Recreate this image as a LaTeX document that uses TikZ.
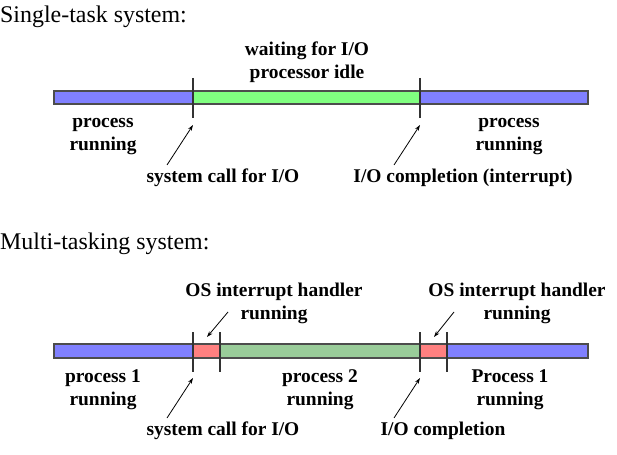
\documentclass[tikz,border=0pt]{standalone}
\usepackage{fontspec}
\setmainfont{Liberation Serif}
\usetikzlibrary{arrows.meta}
\definecolor{runblue}{HTML}{8080FF}
\definecolor{idlegreen}{HTML}{80FF80}
\definecolor{otherrun}{HTML}{99CC99}
\definecolor{handlerred}{HTML}{FF8080}
\begin{document}
\begin{tikzpicture}[x=1bp, y=-1bp, line join=miter,
    seg/.style={draw=black!70, line width=1.2bp},
    tick/.style={draw=black!80, line width=1.2bp},
    lbl/.style={font=\bfseries\fontsize{19.5}{23}\selectfont, align=center, inner sep=0pt},
    ttl/.style={font=\fontsize{24}{26}\selectfont, anchor=west, inner sep=0pt},
    pointer/.style={-{Stealth[length=6bp, width=4bp]}, line width=0.8bp}]
    \useasboundingbox (0,0) rectangle (617,455);

    % single-task
    \node[ttl] (single) at (0,17) {Single-task system:};
    \filldraw[seg, fill=runblue] (54,91) rectangle (193,104);
    \filldraw[seg, fill=idlegreen] (193,91) rectangle (420,104);
    \filldraw[seg, fill=runblue] (420,91) rectangle (588,104);
    \draw[tick] (193,78) -- (193,118);
    \draw[tick] (420,78) -- (420,118);

    \node[lbl] (wait) at (307,62) {waiting for I/O\\processor idle};
    \node[lbl] (runA) at (103,137) {process\\running};
    \node[lbl] (runB) at (509,137) {process\\running};
    \node[lbl] (callA) at (223,178) {system call for I/O};
    \node[lbl] (doneA) at (463,178) {I/O completion (interrupt)};

    \coordinate (callAtail) at (167,165);
    \coordinate (callAhead) at (193,125);
    \coordinate (doneAtail) at (394,165);
    \coordinate (doneAhead) at (420,125);
    \draw[pointer] (callAtail) -- (callAhead);
    \draw[pointer] (doneAtail) -- (doneAhead);

    % multi-tasking
    \node[ttl] (multi) at (0,244) {Multi-tasking system:};
    \filldraw[seg, fill=runblue] (54,344) rectangle (193,358);
    \filldraw[seg, fill=handlerred] (193,344) rectangle (220,358);
    \filldraw[seg, fill=otherrun] (220,344) rectangle (420,358);
    \filldraw[seg, fill=handlerred] (420,344) rectangle (447,358);
    \filldraw[seg, fill=runblue] (447,344) rectangle (588,358);
    \draw[tick] (193,332) -- (193,372);
    \draw[tick] (220,332) -- (220,372);
    \draw[tick] (420,332) -- (420,372);
    \draw[tick] (447,332) -- (447,372);

    \node[lbl] (osA) at (274,303) {OS interrupt handler\\running};
    \node[lbl] (osB) at (517,303) {OS interrupt handler\\running};
    \node[lbl] (procA) at (103,390) {process 1\\running};
    \node[lbl] (procB) at (320,390) {process 2\\running};
    \node[lbl] (procC) at (510,390) {Process 1\\running};
    \node[lbl] (callB) at (223,431) {system call for I/O};
    \node[lbl] (doneB) at (443,431) {I/O completion};

    \coordinate (osAtail) at (228,312);
    \coordinate (osAhead) at (207,337);
    \coordinate (osBtail) at (454,312);
    \coordinate (osBhead) at (434,337);
    \coordinate (callBtail) at (167,418);
    \coordinate (callBhead) at (193,378);
    \coordinate (doneBtail) at (394,418);
    \coordinate (doneBhead) at (420,378);
    \draw[pointer] (osAtail) -- (osAhead);
    \draw[pointer] (osBtail) -- (osBhead);
    \draw[pointer] (callBtail) -- (callBhead);
    \draw[pointer] (doneBtail) -- (doneBhead);
\end{tikzpicture}
\end{document}
